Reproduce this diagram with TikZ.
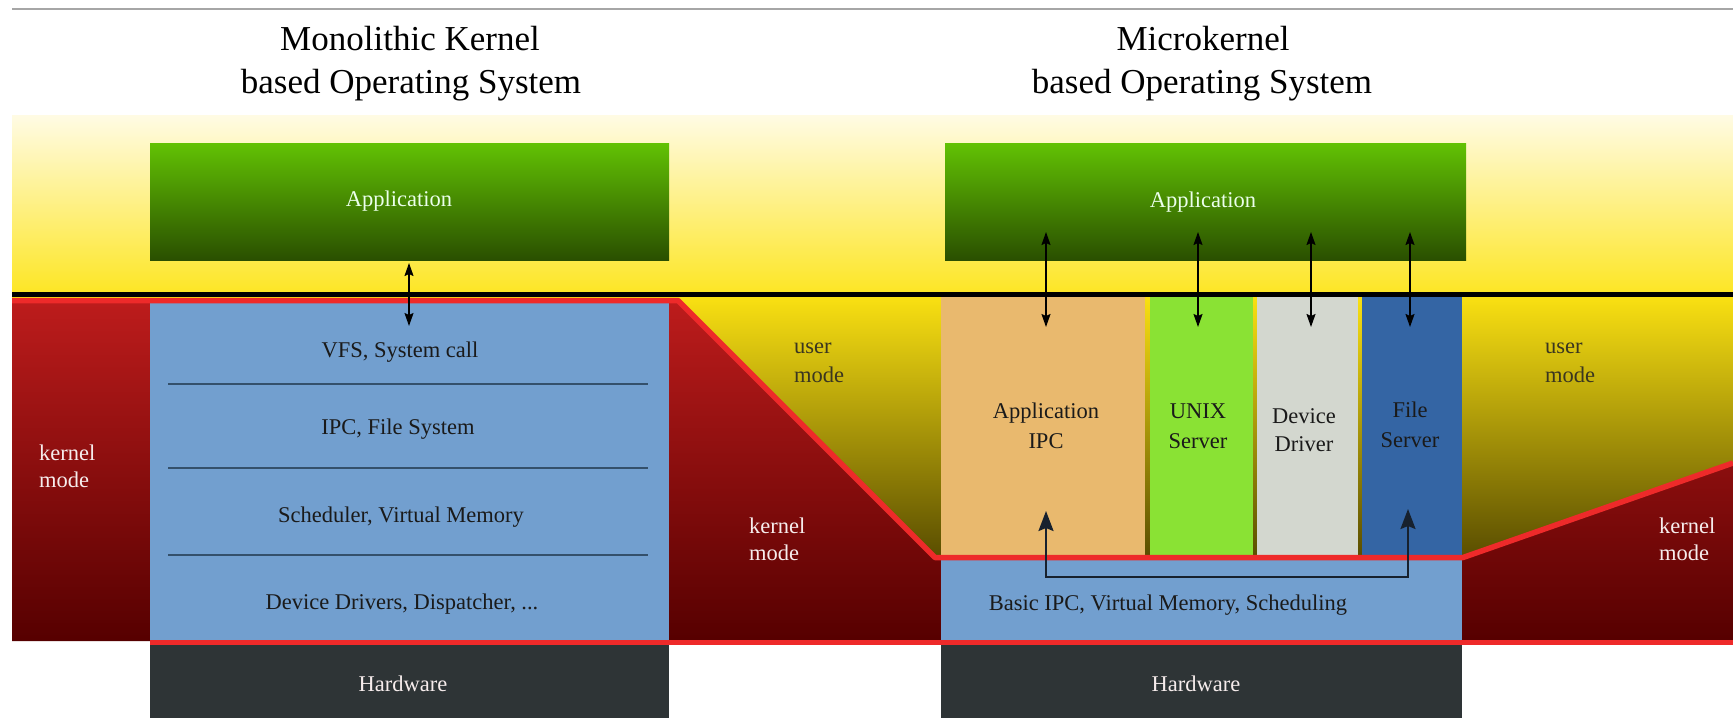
\documentclass[tikz,border=0pt]{standalone}
\usepackage{fontspec}
\setmainfont{Liberation Serif}
\usetikzlibrary{arrows.meta}

\definecolor{skyTop}{HTML}{FFFBE4}
\definecolor{skyBot}{HTML}{FDE626}
\definecolor{userTop}{HTML}{F9E012}
\definecolor{userBot}{HTML}{584C00}
\definecolor{kernTop}{HTML}{BD1C1C}
\definecolor{kernBot}{HTML}{560000}
\definecolor{redLine}{HTML}{EE2A2A}
\definecolor{appTop}{HTML}{62C204}
\definecolor{appBot}{HTML}{2A4F00}
\definecolor{layerBlue}{HTML}{729FCF}
\definecolor{sepLine}{HTML}{34506B}
\definecolor{hwGrey}{HTML}{2E3436}
\definecolor{ipcTan}{HTML}{E9B96E}
\definecolor{unixGreen}{HTML}{8AE234}
\definecolor{devGrey}{HTML}{D3D7CF}
\definecolor{fileBlue}{HTML}{3465A4}
\definecolor{loopNavy}{HTML}{17212E}
\definecolor{darkText}{HTML}{1A1A1A}
\definecolor{userText}{HTML}{3A3620}
\definecolor{lightText}{HTML}{F6ECEC}

\begin{document}
\begin{tikzpicture}[x=1pt,y=1pt,
  body/.style={font=\fontsize{22.5}{27}\selectfont, inner sep=0pt, anchor=base, text=darkText},
  leftlabel/.style={body, anchor=base west},
  heading/.style={font=\fontsize{35}{40}\selectfont, inner sep=0pt, anchor=base, text=black},
  box/.style={inner sep=0pt, outer sep=0pt, anchor=north west, draw=none},
  appbox/.style={box, top color=appTop, bottom color=appBot},
  dbl/.style={{Stealth[length=13pt,width=9pt,inset=2pt]}-{Stealth[length=13pt,width=9pt,inset=2pt]}, line width=1.5pt, black},
  loopar/.style={{Stealth[length=20pt,width=15pt,inset=3pt]}-{Stealth[length=20pt,width=15pt,inset=3pt]}, line width=2.2pt, loopNavy},
]
% canvas
\path[use as bounding box, fill=white] (0,0) rectangle (1733,-718);

% rule at the very top
\draw[line width=2pt, black!35] (12,-9) -- (1733,-9);

% headings
\node[heading] (mono1) at (410,-50) {Monolithic Kernel};
\node[heading] (mono2) at (411,-93) {based Operating System};
\node[heading] (micro1) at (1203,-50) {Microkernel};
\node[heading] (micro2) at (1202,-93) {based Operating System};

% user space above the boundary
\shade[top color=skyTop, bottom color=skyBot] (12,-115) rectangle (1733,-292);
% user space below the boundary
\shade[top color=userTop, bottom color=userBot] (12,-297) rectangle (1733,-560);
% kernel space
\shade[top color=kernTop, bottom color=kernBot]
  (12,-300) -- (678,-300) -- (935,-557) -- (1463,-557) -- (1733,-463)
  -- (1733,-641) -- (12,-641) -- cycle;

% monolithic kernel layers
\node[box, fill=layerBlue, minimum width=519pt, minimum height=337pt] (stackL) at (150,-303) {};
\draw[line width=2.5pt, sepLine] (168,-384) -- (648,-384);
\draw[line width=2.5pt, sepLine] (168,-468) -- (648,-468);
\draw[line width=2.5pt, sepLine] (168,-555) -- (648,-555);
\node[body] (vfs) at (400,-357) {VFS, System call};
\node[body] (ipcfs) at (398,-434) {IPC, File System};
\node[body] (sched) at (401,-522) {Scheduler, Virtual Memory};
\node[body] (drv) at (402,-609) {Device Drivers, Dispatcher, ...};

% microkernel servers
\node[box, fill=ipcTan, minimum width=204pt, minimum height=258pt] (ipcCol) at (941,-297) {};
\node[box, fill=unixGreen, minimum width=103pt, minimum height=258pt] (unixCol) at (1150,-297) {};
\node[box, fill=devGrey, minimum width=101pt, minimum height=258pt] (devCol) at (1257,-297) {};
\node[box, fill=fileBlue, minimum width=100pt, minimum height=258pt] (fileCol) at (1362,-297) {};
\node[body] (ipcT1) at (1046,-418) {Application};
\node[body] (ipcT2) at (1046,-448) {IPC};
\node[body] (unixT1) at (1198,-418) {UNIX};
\node[body] (unixT2) at (1198,-448) {Server};
\node[body] (devT1) at (1304,-423) {Device};
\node[body] (devT2) at (1304,-451) {Driver};
\node[body] (fileT1) at (1410,-417) {File};
\node[body] (fileT2) at (1410,-447) {Server};

% microkernel core
\node[box, fill=layerBlue, minimum width=521pt, minimum height=80pt] (core) at (941,-560) {};
\node[body] (coreT) at (1168,-610) {Basic IPC, Virtual Memory, Scheduling};

% mode boundaries
\draw[line width=5.5pt, redLine, line join=round]
  (12,-300.5) -- (678,-300.5) -- (935,-557.5) -- (1463,-557.5) -- (1733,-463);
\draw[line width=5pt, redLine] (150,-642.5) -- (1733,-642.5);
\draw[line width=5pt, black] (12,-294.5) -- (1733,-294.5);

% hardware
\node[box, fill=hwGrey, minimum width=519pt, minimum height=73pt] (hwL) at (150,-645) {};
\node[box, fill=hwGrey, minimum width=521pt, minimum height=73pt] (hwR) at (941,-645) {};
\node[body, text=lightText] (hwLT) at (403,-691) {Hardware};
\node[body, text=lightText] (hwRT) at (1196,-691) {Hardware};

% applications
\node[appbox, minimum width=519pt, minimum height=117pt] (appL) at (150,-143) {};
\node[appbox, minimum width=521pt, minimum height=117pt] (appR) at (945,-143) {};
\node[body, text=white!92!green] (appLT) at (399,-206) {Application};
\node[body, text=white!92!green] (appRT) at (1203,-207) {Application};

% mode labels
\node[leftlabel, text=lightText] (km1a) at (39,-460) {kernel};
\node[leftlabel, text=lightText] (km1b) at (39,-487) {mode};
\node[leftlabel, text=userText] (um1a) at (794,-353) {user};
\node[leftlabel, text=userText] (um1b) at (794,-382) {mode};
\node[leftlabel, text=lightText] (km2a) at (749,-533) {kernel};
\node[leftlabel, text=lightText] (km2b) at (749,-560) {mode};
\node[leftlabel, text=userText] (um2a) at (1545,-353) {user};
\node[leftlabel, text=userText] (um2b) at (1545,-382) {mode};
\node[leftlabel, text=lightText] (km3a) at (1659,-533) {kernel};
\node[leftlabel, text=lightText] (km3b) at (1659,-560) {mode};

% system call paths
\coordinate (sysTop) at (409,-263);
\coordinate (sysBot) at (409,-326);
\draw[dbl] (sysTop) -- (sysBot);
\coordinate (ipcTop) at (1046,-232);
\coordinate (ipcBot) at (1046,-327);
\coordinate (unixTop) at (1198,-232);
\coordinate (unixBot) at (1198,-327);
\coordinate (devTop) at (1311,-232);
\coordinate (devBot) at (1311,-327);
\coordinate (fileTop) at (1410,-232);
\coordinate (fileBot) at (1410,-327);
\draw[dbl] (ipcTop) -- (ipcBot);
\draw[dbl] (unixTop) -- (unixBot);
\draw[dbl] (devTop) -- (devBot);
\draw[dbl] (fileTop) -- (fileBot);

% message passing through the microkernel
\coordinate (msgA) at (1046,-511);
\coordinate (msgB) at (1408,-509);
\draw[loopar] (msgA) -- (1046,-577) -| (msgB);
\end{tikzpicture}
\end{document}
